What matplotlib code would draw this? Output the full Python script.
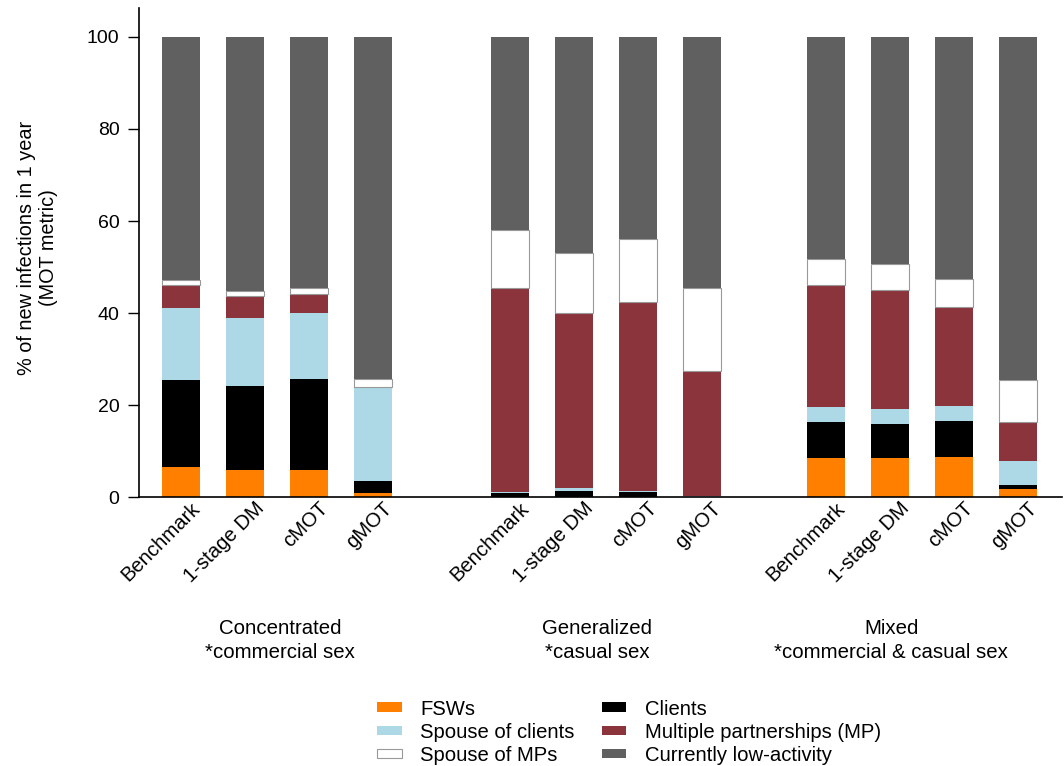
import matplotlib

matplotlib.use("Agg")
import matplotlib.pyplot as plt
import matplotlib.transforms as mtransforms
import numpy as np
from matplotlib.patches import Patch

plt.rcParams["font.family"] = ["Liberation Sans", "DejaVu Sans"]

scenarios = ["Benchmark", "1-stage DM", "cMOT", "gMOT"]
groups = ["Concentrated\n*commercial sex", "Generalized\n*casual sex",
          "Mixed\n*commercial & casual sex"]

# Share of new infections (%) per population, bars ordered group by group
fsws = [6.6, 6.0, 5.8, 0.9,   0.0, 0.0, 0.0, 0.0,   8.5, 8.5, 8.8, 1.8]
clients = [18.9, 18.2, 19.9, 2.6,   1.0, 1.4, 1.2, 0.0,   7.8, 7.5, 7.7, 0.9]
spouse_clients = [15.7, 14.7, 14.3, 20.3,   0.2, 0.6, 0.2, 0.3,   3.2, 3.1, 3.3, 5.1]
multiple_partners = [4.8, 4.7, 4.2, 0.2,   44.2, 38.1, 40.9, 27.2,   26.5, 26.0, 21.6, 8.5]
spouse_mps = [1.1, 1.3, 1.2, 1.6,   12.6, 12.9, 13.7, 17.9,   5.8, 5.5, 5.9, 9.1]

series = [
    ("FSWs", fsws, "#ff8000"),
    ("Clients", clients, "#000000"),
    ("Spouse of clients", spouse_clients, "#add8e6"),
    ("Multiple partnerships (MP)", multiple_partners, "#8c343c"),
    ("Spouse of MPs", spouse_mps, "#ffffff"),
]
LOW_COLOR = "#606060"
EDGE_WHITE = "#999999"

# where each group of four bars starts, and where its caption sits
group_starts = [0.0, 5.14, 10.08]
caption_x = [1.55, 6.5, 11.1]
x = np.array([s + i for s in group_starts for i in range(len(scenarios))])

fig = plt.figure(figsize=(10.64, 7.66), dpi=100)
ax = fig.add_axes([0.1306, 0.351, 0.8675, 0.6386])

bottom = np.zeros(len(x))
for name, vals, color in series:
    vals = np.array(vals)
    edge = EDGE_WHITE if color == "#ffffff" else "none"
    ax.bar(x, vals, width=0.6, bottom=bottom, color=color, edgecolor=edge, linewidth=0.8)
    bottom += vals
low_activity = 100 - bottom
ax.bar(x, low_activity, width=0.6, bottom=bottom, color=LOW_COLOR, edgecolor="none")

ax.set_xlim(x[0] - 0.66, x[-1] + 0.69)
ax.set_ylim(0, 106.3)
ax.set_yticks([0, 20, 40, 60, 80, 100])
ax.tick_params(axis="y", labelsize=14, direction="out", length=8, width=1, pad=6)
ax.tick_params(axis="x", length=0, labelsize=14.6, pad=6)
ax.set_xticks(x)
ax.set_xticklabels(scenarios * len(groups), rotation=45, ha="right", va="center",
                   rotation_mode="anchor")
shift = mtransforms.ScaledTranslation(16 / 100, 0, fig.dpi_scale_trans)
for lbl in ax.get_xticklabels():
    lbl.set_transform(lbl.get_transform() + shift)
for side in ["top", "right"]:
    ax.spines[side].set_visible(False)
ax.spines["left"].set_linewidth(1.2)
ax.spines["bottom"].set_linewidth(1.2)
ax.set_ylabel("% of new infections in 1 year\n(MOT metric)", fontsize=14.3)
ax.yaxis.set_label_coords(-0.088, 0.51)

for cx, label in zip(caption_x, groups):
    ax.text(cx, -0.249, label, transform=ax.get_xaxis_transform(), ha="center", va="top",
            fontsize=14.7, linespacing=1.35)

handles = [
    Patch(facecolor="#ff8000", edgecolor="none"),
    Patch(facecolor="#add8e6", edgecolor="none"),
    Patch(facecolor="#ffffff", edgecolor=EDGE_WHITE, linewidth=0.8),
    Patch(facecolor="#000000", edgecolor="none"),
    Patch(facecolor="#8c343c", edgecolor="none"),
    Patch(facecolor=LOW_COLOR, edgecolor="none"),
]
labels = ["FSWs", "Spouse of clients", "Spouse of MPs",
          "Clients", "Multiple partnerships (MP)", "Currently low-activity"]
fig.legend(handles, labels, ncol=2, loc="upper left", bbox_to_anchor=(0.345, 0.1),
           frameon=False, fontsize=14.6, handlelength=1.23, handleheight=0.35,
           labelspacing=0.2, columnspacing=1.33, handletextpad=0.89, borderpad=0)

fig.savefig("out.png", dpi=100)
